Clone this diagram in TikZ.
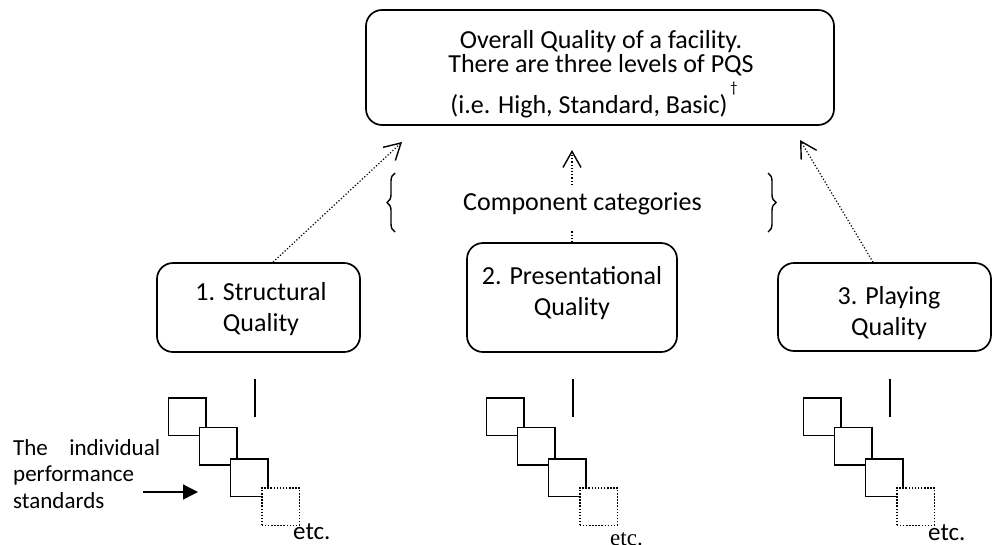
\documentclass[tikz,border=0pt]{standalone}
\usepackage{fontspec}
\setmainfont{Carlito}
\newfontfamily\serifetc{Liberation Serif}
\usetikzlibrary{arrows.meta,decorations.pathreplacing}
\begin{document}
\begin{tikzpicture}[x=1pt,y=-1pt,
  rbox/.style={draw, line width=1.7pt, rounded corners=16pt, inner sep=0pt},
  bt/.style={font=\fontsize{26}{32}\selectfont, inner sep=0pt, anchor=base},
  lt/.style={font=\fontsize{23}{27}\selectfont, inner sep=0pt, anchor=base west},
  sqs/.style={draw, line width=1.5pt, fill=white, minimum size=37.5pt, inner sep=0pt},
  dsq/.style={sqs, dash pattern=on 1.5pt off 1.6pt},
  darr/.style={line width=1.2pt, dash pattern=on 1.2pt off 2pt, -{Straight Barb[length=16pt,width=18pt,line width=1.4pt]}},
  dln/.style={line width=1.2pt, dash pattern=on 1.2pt off 2pt},
  brc/.style={line width=1.4pt, decorate, decoration={brace, amplitude=8pt}},
  vln/.style={line width=1.4pt},
  etcf/.style={font=\fontsize{25}{30}\selectfont, inner sep=0pt, anchor=base west}
]
\useasboundingbox (0,0) rectangle (992,544);

% top box
\node[rbox, minimum width=468pt, minimum height=115pt] (top) at (600,67.5) {};
\node[bt] (t1) at (601,48.5) {Overall Quality of a facility.};
\node[bt] (t2) at (601,72) {There are three levels of PQS};
\node[bt] (t3) at (594,113.5) {(i.e. High, Standard, Basic)\raisebox{21pt}{\fontsize{15}{15}\selectfont\,†}};

% category boxes
\node[rbox, minimum width=203pt, minimum height=89pt] (b1) at (258.5,307.5) {};
\node[bt] (b1a) at (261,300) {1. Structural};
\node[bt] (b1b) at (261,331) {Quality};

\node[rbox, minimum width=210pt, minimum height=109pt] (b2) at (572,297.5) {};
\node[bt] (b2a) at (572,284) {2. Presentational};
\node[bt] (b2b) at (572,315) {Quality};

\node[rbox, minimum width=213pt, minimum height=88pt] (b3) at (884.5,307) {};
\node[bt] (b3a) at (889,304) {3. Playing};
\node[bt] (b3b) at (889,335) {Quality};

% arrows
\coordinate (tipL) at (402,142);
\coordinate (tipM) at (572,150);
\coordinate (tipR) at (800,140);
\coordinate (gapB) at (572,230);
\coordinate (gapT) at (572,185);
\draw[darr] ([xshift=14.5pt]b1.north) -- (tipL);
\draw[dln] (b2.north) -- (gapB);
\draw[darr] (gapT) -- (tipM);
\draw[darr] ([xshift=-11.5pt]b3.north) -- (tipR);

% component categories
\node[bt] (cc) at (582.5,210) {Component categories};
\draw[brc] (395,232) -- (395,173);
\draw[brc] (768,173) -- (768,232);

% standards
\foreach \g/\dx/\lx in {a/0/255, b/318/573, c/635/890}{
  \draw[vln] (\lx,379) -- (\lx,417);
  \node[sqs] (s\g1) at (187+\dx,416.5) {};
  \node[sqs] (s\g2) at (218+\dx,446) {};
  \node[sqs] (s\g3) at (249+\dx,477.5) {};
  \node[dsq] (s\g4) at (280.5+\dx,506.5) {};
}
\node[etcf] (etc1) at (293,539) {etc.};
\node[inner sep=0pt, anchor=base west, font=\serifetc\fontsize{23}{27}\selectfont] (etc2) at (610,545) {etc.};
\node[etcf] (etc3) at (928,540) {etc.};

% label
\node[lt] (l1) at (13,455) {\makebox[147pt][s]{The individual}};
\node[lt] (l2) at (13,481) {performance};
\node[lt] (l3) at (13,508) {standards};
\coordinate (la1) at (143,492);
\coordinate (la2) at (198,492);
\draw[line width=1.4pt, -{Triangle[length=15pt,width=15pt]}] (la1) -- (la2);
\end{tikzpicture}
\end{document}
